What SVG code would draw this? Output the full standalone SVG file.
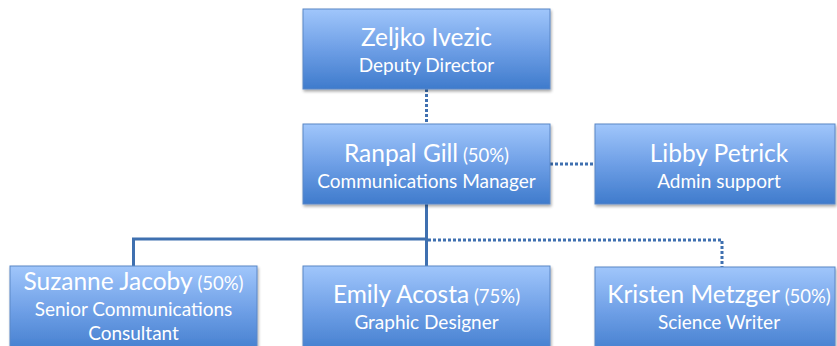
<svg xmlns="http://www.w3.org/2000/svg" width="837" height="346" viewBox="0 0 837 346">
<defs>
<linearGradient id="g" x1="0" y1="0" x2="0" y2="1">
<stop offset="0" stop-color="#a0c6fb"/>
<stop offset="0.5" stop-color="#6e9fe6"/>
<stop offset="1" stop-color="#3f7bcc"/>
</linearGradient>
<filter id="sh" x="-5%" y="-5%" width="115%" height="125%">
<feGaussianBlur in="SourceAlpha" stdDeviation="1.5"/>
<feOffset dx="1" dy="2"/>
<feComponentTransfer><feFuncA type="linear" slope="0.35"/></feComponentTransfer>
<feMerge><feMergeNode/><feMergeNode in="SourceGraphic"/></feMerge>
</filter>
</defs>
<style>
.box{fill:url(#g);stroke:#5a87c6;stroke-width:1;filter:url(#sh)}
.t{font-family:Lato,"Open Sans",sans-serif;fill:#ffffff;text-anchor:middle}
.n{font-size:24.5px}
.p{font-size:18.5px}
.s{font-size:19px}
.solid{fill:none;stroke:#3f70b0;stroke-width:3}
.dot{fill:none;stroke:#3f70b0;stroke-width:3;stroke-dasharray:3 2}
</style>
<rect width="837" height="346" fill="#ffffff"/>
<g id="connectors">
<path class="dot" d="M426.5 89 V124"/>
<path class="dot" d="M550 164 H595"/>
<path class="solid" d="M426.5 204 V266"/>
<path class="solid" d="M426.5 239 H133.5 V266"/>
<path class="dot" d="M428 240 H722 V267"/>
</g>
<g id="zeljko">
<rect class="box" x="303" y="9" width="247" height="80"/>
<text class="t n" x="426.5" y="46">Zeljko Ivezic</text>
<text class="t s" x="426.5" y="72">Deputy Director</text>
</g>
<g id="ranpal">
<rect class="box" x="303" y="124" width="247" height="80"/>
<text class="t" x="426.5" y="162"><tspan class="n">Ranpal Gill</tspan><tspan class="p"> (50%)</tspan></text>
<text class="t s" x="426.5" y="188">Communications Manager</text>
</g>
<g id="libby">
<rect class="box" x="595" y="124" width="240" height="80"/>
<text class="t n" x="719" y="162">Libby Petrick</text>
<text class="t s" x="719" y="188">Admin support</text>
</g>
<g id="suzanne">
<rect class="box" x="10" y="266" width="247" height="90"/>
<text class="t" x="133.5" y="290"><tspan class="n">Suzanne Jacoby</tspan><tspan class="p"> (50%)</tspan></text>
<text class="t s" x="133.5" y="316">Senior Communications</text>
<text class="t s" x="133.5" y="340">Consultant</text>
</g>
<g id="emily">
<rect class="box" x="303" y="266" width="247" height="90"/>
<text class="t" x="426.5" y="303"><tspan class="n">Emily Acosta</tspan><tspan class="p"> (75%)</tspan></text>
<text class="t s" x="426.5" y="329">Graphic Designer</text>
</g>
<g id="kristen">
<rect class="box" x="595" y="267" width="240" height="90"/>
<text class="t" x="719" y="303"><tspan class="n">Kristen Metzger</tspan><tspan class="p"> (50%)</tspan></text>
<text class="t s" x="719" y="329">Science Writer</text>
</g>
</svg>
